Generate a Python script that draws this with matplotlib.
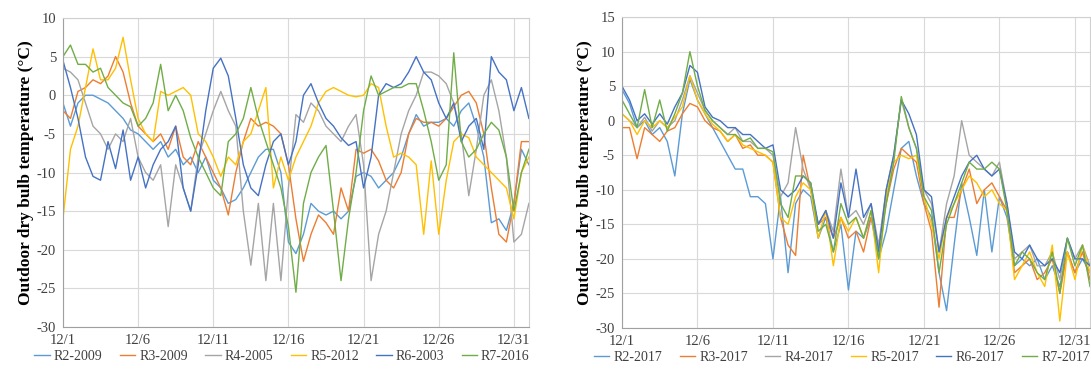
import numpy as np
import matplotlib
matplotlib.use("Agg")
import matplotlib.pyplot as plt

plt.rcParams['font.family'] = ['Liberation Serif', 'DejaVu Serif']
plt.rcParams['axes.unicode_minus'] = False

# time axis: one value every 12 hours, 12/1 00:00 to 1/1 00:00
hours = np.arange(0, 745, 12)
tick_hours = [0, 120, 240, 360, 480, 600, 720]
tick_labels = ["12/1", "12/6", "12/11", "12/16", "12/21", "12/26", "12/31"]

colors = ["#5B9BD5", "#ED7D31", "#A5A5A5", "#FFC000", "#4472C4", "#70AD47"]

# ---- left panel: reference years ----
names_left = ["R2-2009", "R3-2009", "R4-2005", "R5-2012", "R6-2003", "R7-2016"]
r2_2009 = [-1, -4, -1, 0, 0, -0.5, -1, -2, -3, -4.5, -5, -6, -7, -6, -8, -7, -9, -8, -10, -8,
           -11, -12, -14, -13.5, -12, -10, -8, -7, -7, -10, -19, -20.5, -18, -14, -15, -15.5, -15, -16, -15, -10.5,
           -10, -10.5, -12, -11, -10, -8, -5, -2.5, -4, -3.5, -3.5, -3, -4, -2, -1, -4, -8, -16.5, -16, -17.5,
           -14, -7, -9]
r3_2009 = [-2, -3, 0.5, 1, 2, 1.5, 2.5, 5, 3, -1, -4, -5, -6, -5, -7, -4, -8, -9, -6, -8,
           -10, -12, -15.5, -10, -6, -3, -4, -3.5, -4, -5, -9, -16, -21.5, -18, -15.5, -16.5, -18, -12, -15, -7,
           -7.5, -7, -8.5, -11, -12, -10, -5, -3, -3.5, -3.5, -4, -3, -1.5, 0, 0.5, -1, -5, -12, -18, -19,
           -14, -6, -6]
r4_2005 = [3.5, 3, 2, -1, -4, -5, -7, -5, -6, -3, -8, -10, -11, -9, -17, -9, -12, -15, -8, -5,
           -2, 0.5, -2, -4, -15, -22, -14, -24, -14, -24, -12, -2.5, -3.5, -1, -2, -4, -5, -6, -4, -2.5,
           -9, -24, -18, -15, -10, -5, -2, 0, 3, 3, 2.5, 1.5, -1, -5, -13, -7, 0, 2, -2, -8,
           -19, -18, -14]
r5_2012 = [-16, -7, -4, 1, 6, 2, 2, 3.5, 7.5, 2, -3, -5, -6, 0.5, 0, 0.5, 1, 0, -5, -6,
           -8, -10.5, -8, -9, -6, -5, -2, 1, -12, -8, -11, -8, -6, -4, -1, 0.5, 1, 0.5, 0, -0.2,
           0, 1.5, 1, -4, -8, -7.5, -8, -9, -18, -8.5, -18, -11, -6, -5, -5.5, -8, -9, -10, -11, -12,
           -16, -10, -8]
r6_2003 = [4.5, 1, -3, -8, -10.5, -11, -6, -9.5, -4.5, -11, -8, -12, -9, -7, -6, -4, -12, -15, -9, -2,
           3.5, 4.8, 2.5, -3, -9, -12, -13, -9, -6, -5, -9, -6, 0, 1.5, -1, -3, -4, -5.5, -6.5, -6,
           -12, -8, 0, 1.5, 1, 1.5, 3, 5, 3, 2, -1, -3, -1, -6, -4, -3, -7, 5, 3, 2,
           -2, 1, -3]
r7_2016 = [5, 6.5, 4, 4, 3, 3.5, 1, 0, -1, -1.5, -4, -3, -1, 4, -2, 0, -2, -5.5, -8, -10,
           -12, -13, -6, -5, -3, 1, -3, -6, -9, -12, -17, -25.5, -14, -10, -8, -6.5, -15, -24, -16, -10,
           -2, 2.5, 0, 0.5, 1, 1, 1.5, 1.5, -2, -6, -11, -9, 5.5, -6, -8, -7, -5, -3.5, -4.5, -8,
           -15, -10, -7]

# ---- right panel: 2017 ----
names_right = ["R2-2017", "R3-2017", "R4-2017", "R5-2017", "R6-2017", "R7-2017"]
r2_2017 = [4.5, 2.5, -1, 0, -2, -1, -3, -8, 1, 6, 3, 1, -1, -3, -5, -7, -7, -11, -11, -12,
           -20, -11, -22, -12, -10, -11, -17, -14, -19, -15, -24.5, -16, -17, -14, -20, -16, -10, -4, -3, -8,
           -12, -14, -22, -27.5, -18, -9, -14, -19.5, -10, -19, -11, -14, -21, -20, -21, -20, -23, -21, -24, -19,
           -22, -20, -22]
r3_2017 = [-1, -1, -5.5, -1, -2, -3, -1.5, -1, 1, 2.5, 2, 0, -1, -1.5, -3, -2, -4, -3.5, -5, -5,
           -6, -14, -18, -19.5, -5, -10, -15, -14, -17, -14, -17, -16, -19, -14, -18, -12, -7, -4, -5, -6,
           -12, -16, -27, -14, -14, -10, -7, -12, -10, -9, -11, -13, -22, -21, -20, -23, -22, -20, -25, -19,
           -22, -19, -23]
r4_2017 = [1, 0, -1, 0.5, -1.5, 0, -1, 0, 3, 6.5, 4, 1.5, 0, -1, -2, -1, -3, -3, -4, -4,
           -5, -11, -9, -1, -7, -10, -15, -13, -16, -7, -14, -13, -15, -12, -18, -10, -5, 3, -1, -4,
           -10, -12, -19, -12, -8, 0, -5, -6, -7, -8, -6, -12, -20, -19, -18, -21, -21, -19, -23, -17,
           -20, -18, -21]
r5_2017 = [1, 0, -2, 0, -1, 0, -1, 0.5, 2, 6.5, 3, 1, -0.5, -1.5, -3, -2, -3.5, -4, -4.5, -5,
           -6, -14, -15, -11, -9, -10, -17, -13, -21, -14, -16, -14, -17, -13, -22, -11, -6, -5, -5.5, -5,
           -11, -15, -20, -14, -12, -10, -8, -9, -11, -10, -12, -13, -23, -21, -19, -22, -24, -18, -29, -19,
           -23, -18, -22]
r6_2017 = [5, 3, 0, 1, -0.5, 1, -0.5, 2, 4, 8, 7, 2, 0.5, 0, -1, -1, -2, -2, -3, -4,
           -3.5, -10, -11, -10, -8, -9, -15, -13, -17, -9, -14, -7, -14, -12, -19, -10, -5, 3, 1, -2,
           -10, -11, -19, -14, -11, -8, -6, -5, -7, -8, -7, -12, -19, -20, -18, -20, -21, -20, -22, -17,
           -20, -20, -21]
r7_2017 = [3, 1, -1, 4.5, -1, 3, -1.5, 1, 4, 10, 5, 1.5, 0, -1, -2, -2, -3, -2.5, -4, -4,
           -4.5, -12, -14, -8, -8, -9, -16, -15, -19, -12, -15, -14, -17, -13, -20, -12, -6, 3.5, -1, -4,
           -11, -13, -22, -15, -12, -9, -6, -7, -7, -6, -7, -13, -21, -19, -20, -22, -23, -19, -25, -17,
           -21, -18, -24]


def panel(ax, series, names, ymin, ymax):
    for vals, name, c in zip(series, names, colors):
        ax.plot(hours, vals, color=c, lw=1.0, label=name)
    ax.set_xlim(0, 744)
    ax.set_ylim(ymin, ymax)
    ax.set_yticks(np.arange(ymin, ymax + 1, 5))
    ax.set_xticks(tick_hours)
    ax.set_xticklabels(tick_labels)
    ax.grid(True, color="#D9D9D9", linewidth=0.8)
    ax.set_axisbelow(True)
    for s in ax.spines.values():
        s.set_color("#D0D0D0")
        s.set_linewidth(0.8)
    ax.spines["left"].set_color("#A0A0A0")
    ax.spines["bottom"].set_color("#A0A0A0")
    ax.tick_params(length=0, labelsize=10.5, colors="#404040", pad=5)
    ax.set_ylabel("Outdoor dry bulb temperature (\u00b0C)", fontsize=12.5,
                  fontweight="bold", labelpad=2)
    ax.legend(loc="upper center", bbox_to_anchor=(0.47, -0.035), ncol=6,
              frameon=False, fontsize=10, handlelength=1.1, handletextpad=0.3,
              columnspacing=1.25, labelcolor="#404040")


fig = plt.figure(figsize=(10.91, 3.80), dpi=100)
ax1 = fig.add_axes([0.0577, 0.1395, 0.4271, 0.8131])
ax2 = fig.add_axes([0.5701, 0.137, 0.4290, 0.818])

panel(ax1, [r2_2009, r3_2009, r4_2005, r5_2012, r6_2003, r7_2016], names_left, -30, 10)
panel(ax2, [r2_2017, r3_2017, r4_2017, r5_2017, r6_2017, r7_2017], names_right, -30, 15)

fig.savefig("out.png", dpi=100)
